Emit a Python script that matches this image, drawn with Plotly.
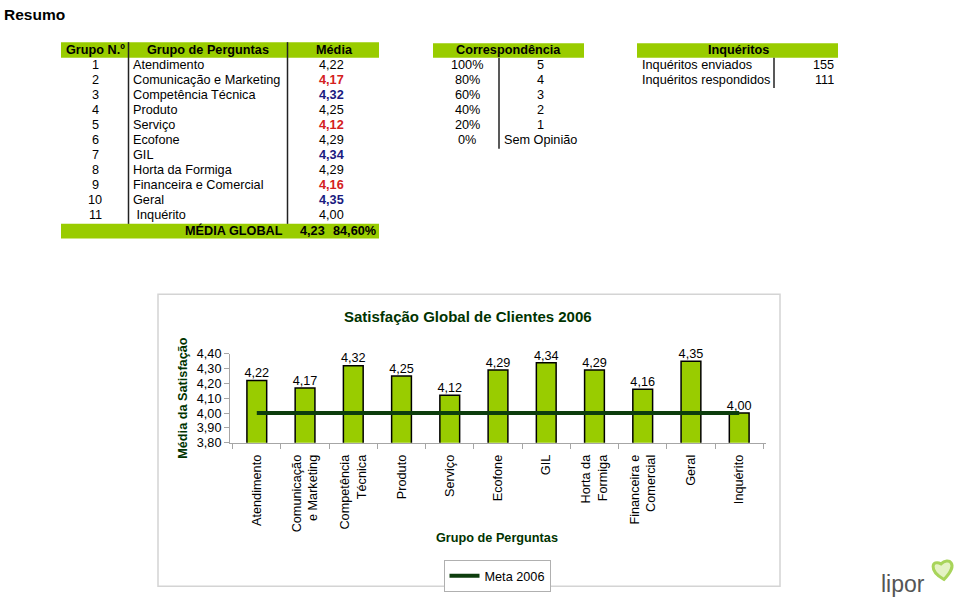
import plotly.graph_objects as go

# ---- data ----
grupo_num = [1, 2, 3, 4, 5, 6, 7, 8, 9, 10, 11]
grupos = ["Atendimento", "Comunicação e Marketing", "Competência Técnica", "Produto",
          "Serviço", "Ecofone", "GIL", "Horta da Formiga", "Financeira e Comercial",
          "Geral", " Inquérito"]
medias = [4.22, 4.17, 4.32, 4.25, 4.12, 4.29, 4.34, 4.29, 4.16, 4.35, 4.00]
media_global = 4.23
media_global_pct = "84,60%"

corr_pct = ["100%", "80%", "60%", "40%", "20%", "0%"]
corr_val = ["5", "4", "3", "2", "1", "Sem Opinião"]

inq_labels = ["Inquéritos enviados", "Inquéritos respondidos"]
inq_vals = [155, 111]

categorias = ["Atendimento", "Comunicação<br>e Marketing", "Competência<br>Técnica", "Produto",
              "Serviço", "Ecofone", "GIL", "Horta da<br>Formiga", "Financeira e<br>Comercial",
              "Geral", "Inquérito"]
meta_2006 = [4.00] * len(categorias)

# ---- styles ----
W, H = 959, 606
FONT = "Liberation Sans, Arial, sans-serif"
FS = 12.7
VERDE = "#99cc00"
VERDE_ESC = "#003300"
RED = "#d42020"
BLUE = "#1a1a80"
cor_media = {2: RED, 5: RED, 9: RED, 3: BLUE, 7: BLUE, 10: BLUE}


def px(x):
    return x / W


def py(y):
    return 1 - y / H


fig = go.Figure()

fig.add_trace(go.Bar(
    x=categorias, y=medias,
    marker=dict(color=VERDE, line=dict(color="black", width=1.5)),
    showlegend=False, hoverinfo="skip"
))
fig.add_trace(go.Scatter(
    x=categorias, y=medias, mode="text",
    text=[f"{v:.2f}".replace(".", ",") for v in medias],
    textposition="top center", cliponaxis=False,
    textfont=dict(size=FS, color="black", family=FONT),
    showlegend=False, hoverinfo="skip"
))
fig.add_trace(go.Scatter(
    x=categorias, y=meta_2006, mode="lines",
    line=dict(color="#0d3d0d", width=4),
    name="Meta 2006"
))

annotations = []
shapes = []


def txt(x, y, s, anchor="center", size=FS, color="black", bold=False):
    if bold:
        s = "<b>" + s + "</b>"
    annotations.append(dict(
        x=px(x), y=py(y), xref="paper", yref="paper", text=s, showarrow=False,
        xanchor=anchor, yanchor="middle", font=dict(size=size, color=color, family=FONT)
    ))


def rect(x0, y0, x1, y1, fill=None, line=None, width=1):
    shapes.append(dict(
        type="rect", xref="paper", yref="paper",
        x0=px(x0), x1=px(x1), y0=py(y1), y1=py(y0),
        fillcolor=fill if fill else "rgba(0,0,0,0)",
        line=dict(color=line if line else "rgba(0,0,0,0)", width=width if line else 0),
        layer="below"
    ))


def vline(x, y0, y1, color="#222222", width=1.5):
    shapes.append(dict(
        type="line", xref="paper", yref="paper",
        x0=px(x), x1=px(x), y0=py(y0), y1=py(y1),
        line=dict(color=color, width=width)
    ))


# title
txt(2, 8, "Resumo", anchor="left", size=15.5, bold=True)

# main table
row_h = 15.4
rect(61, 36, 379, 52, fill=VERDE)
rect(61, 222, 379, 237, fill=VERDE)
vline(128.5, 36, 222)
vline(287.5, 36, 222)
txt(95, 44, "Grupo N.º", bold=True)
txt(208, 44, "Grupo de Perguntas", bold=True)
txt(334, 44, "Média", bold=True)
for i, (n, g, m) in enumerate(zip(grupo_num, grupos, medias)):
    y = 59 + i * row_h
    txt(95, y, str(n))
    txt(131, y, g.replace(" ", "&nbsp;", 1) if g.startswith(" ") else g, anchor="left")
    c = cor_media.get(n, "black")
    txt(346, y, f"{m:.2f}".replace(".", ","), anchor="right", color=c, bold=(c != "black"))
txt(285, 229, "MÉDIA GLOBAL", anchor="right", bold=True)
txt(327, 229, f"{media_global:.2f}".replace(".", ","), anchor="right", bold=True)
txt(378, 229, media_global_pct, anchor="right", bold=True)

# correspondencia
rect(433, 37, 584, 52, fill=VERDE)
txt(508, 44, "Correspondência", bold=True)
vline(499, 52, 145)
for i, (p, v) in enumerate(zip(corr_pct, corr_val)):
    y = 59 + i * row_h
    txt(467, y, p)
    txt(540, y, v)

# inqueritos
rect(637, 37, 838, 52, fill=VERDE)
txt(738, 44, "Inquéritos", bold=True)
vline(774, 52, 83)
for i, (l, v) in enumerate(zip(inq_labels, inq_vals)):
    y = 59 + i * row_h
    txt(640, y, l, anchor="left")
    txt(836, y, str(v), anchor="right")

# chart frame and titles
rect(158, 294, 780, 593, line="#d4d4d4", width=1.5)
txt(468, 317, "Satisfação Global de Clientes 2006", size=15, color=VERDE_ESC, bold=True)
txt(497, 544, "Grupo de Perguntas", size=FS, color=VERDE_ESC, bold=True)
annotations.append(dict(
    x=px(183), y=py(400), xref="paper", yref="paper", text="<b>Média da Satisfação</b>",
    showarrow=False, textangle=-90, xanchor="center", yanchor="middle",
    font=dict(size=FS, color=VERDE_ESC, family=FONT)
))

# logo
txt(903, 591, "lipor", size=23, color="#555555")
hx, hy = 944, 577
heart = (f"M {px(hx)},{py(hy + 9)} "
         f"C {px(hx - 16)},{py(hy)} {px(hx - 12)},{py(hy - 12)} {px(hx - 3)},{py(hy - 7)} "
         f"C {px(hx + 4)},{py(hy - 14)} {px(hx + 16)},{py(hy - 8)} {px(hx)},{py(hy + 9)} Z")
shapes.append(dict(type="path", xref="paper", yref="paper", path=heart,
                   fillcolor="#e4f2c4", line=dict(color="#a8d45a", width=3)))

fig.update_layout(
    width=W, height=H,
    margin=dict(l=0, r=0, t=0, b=0),
    paper_bgcolor="white", plot_bgcolor="white",
    separators=",.",
    font=dict(family=FONT, size=FS, color="black"),
    bargap=0.59,
    annotations=annotations, shapes=shapes,
    xaxis=dict(
        domain=[px(230), px(766)],
        showline=True, linecolor="#a6a6a6", linewidth=1,
        ticks="outside", tickson="boundaries", ticklen=5, tickcolor="#a6a6a6",
        tickangle=-90, tickfont=dict(size=FS, color="black"),
        ticklabelstandoff=6,
        showgrid=False, fixedrange=True
    ),
    yaxis=dict(
        domain=[py(446), py(355)],
        range=[3.8, 4.4], dtick=0.1, tick0=3.8, tickformat=".2f",
        showline=True, linecolor="#a6a6a6", linewidth=1,
        ticks="outside", ticklen=5, tickcolor="#a6a6a6",
        tickfont=dict(size=FS, color="black"),
        showgrid=False, zeroline=False, fixedrange=True
    ),
    showlegend=True,
    legend=dict(
        orientation="h", x=px(497), xanchor="center", y=py(566), yanchor="top",
        bordercolor="#b0b0b0", borderwidth=1, font=dict(size=FS, color="black"),
        itemwidth=30
    )
)

fig.write_html("out.html", config={"displayModeBar": False},
               post_script="document.body.style.margin='0';")
